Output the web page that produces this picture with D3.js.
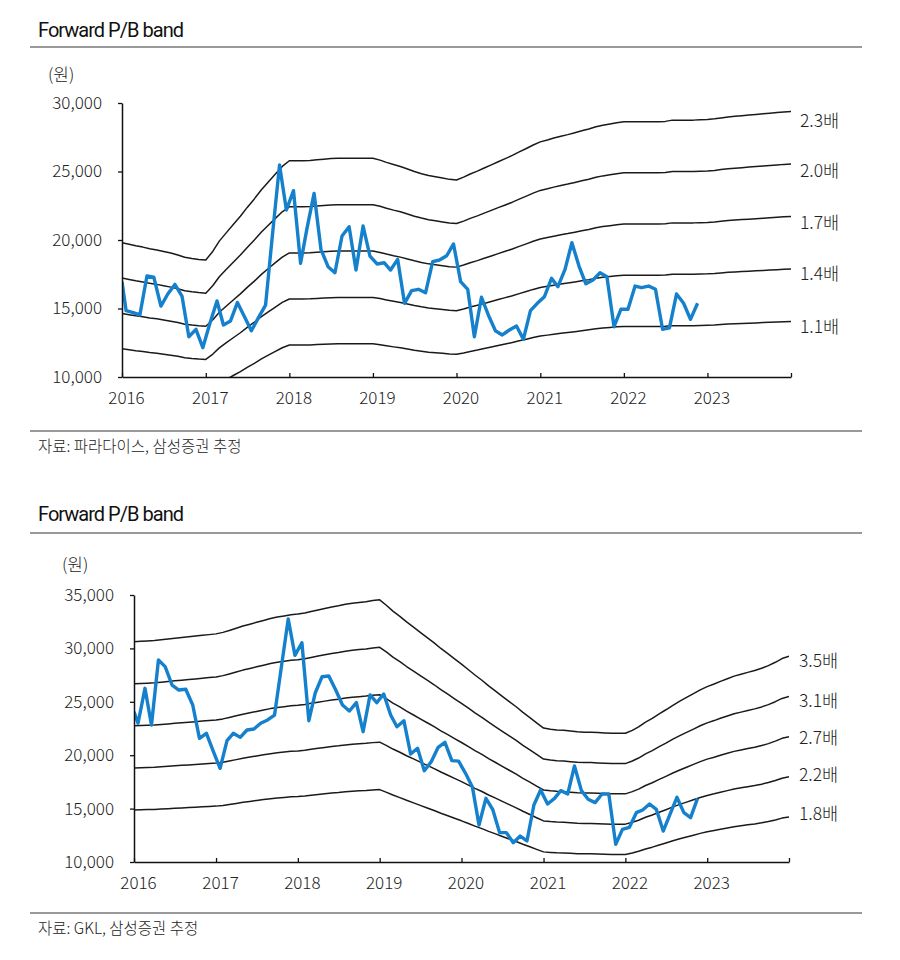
<!DOCTYPE html>
<html><head><meta charset="utf-8">
<script src="https://cdn.jsdelivr.net/npm/d3@7"></script>
<style>
body{margin:0;background:#fff}
svg{display:block}
.num{font-family:"Noto Sans CJK KR","Noto Sans",sans-serif;font-weight:300;fill:#222}
.ttl{font-family:"Liberation Sans Narrow","Roboto",sans-serif;fill:#111}
</style>
</head><body>
<svg id="chart" width="900" height="960"></svg>
<script>
// ---------------- data ----------------
const years = ["2016","2017","2018","2019","2020","2021","2022","2023"];
const axisStart = "2016-01-01", axisEnd = "2024-01-01";

// Panel 1 (파라다이스)
const topTitle = "Forward P/B band";
const topSource = "자료: 파라다이스, 삼성증권 추정";
const topTicks = [10000, 15000, 20000, 25000, 30000];
const topMultiples = [2.3, 2.0, 1.7, 1.4, 1.1];
const topBandLabels = ["2.3배", "2.0배", "1.7배", "1.4배", "1.1배"];
// forward BPS, monthly from 2016-01 to 2024-01
const topBps = [8610,8560,8510,8470,8420,8380,8330,8280,8220,8150,8110,8080,8060,
  8340,8660,8930,9190,9450,9730,10000,10290,10540,10790,11030,11210,
  11210,11210,11220,11240,11260,11280,11290,11290,11290,11290,11290,11290,
  11230,11160,11090,11030,10950,10870,10800,10740,10700,10660,10620,10600,
  10690,10790,10880,10980,11080,11180,11280,11380,11490,11600,11710,11810,
  11870,11930,11990,12040,12100,12160,12220,12290,12340,12380,12420,12450,
  12450,12450,12450,12450,12450,12460,12500,12500,12500,12500,12510,12520,
  12540,12570,12600,12620,12640,12660,12680,12700,12720,12740,12760,12770];
const topPriceStart = 16950;
// share price, monthly from 2016-01 to 2022-11
const topPrice = [14840,14700,14530,17370,17280,15180,16060,16760,15910,12940,
  13480,12140,13920,15550,13800,14090,15430,14400,13380,14330,
  15250,20360,25470,22190,23600,18300,20850,23400,19320,18050,
  17610,20290,20970,17810,21020,18830,18250,18340,17810,18590,
  15380,16300,16400,16150,18420,18540,18850,19710,16960,16400,
  12940,15820,14530,13380,13070,13430,13720,12750,14840,15380,
  15860,17200,16590,17860,19800,18100,16800,17080,17610,17320,
  13670,14940,14940,16640,16520,16640,16400,13480,13580,16060,
  15380,14210,15380];

// Panel 2 (GKL)
const botTitle = "Forward P/B band";
const botSource = "자료: GKL, 삼성증권 추정";
const botTicks = [10000, 15000, 20000, 25000, 30000, 35000];
const botMultiples = [3.5, 3.05, 2.6, 2.15, 1.7];
const botBandLabels = ["3.5배", "3.1배", "2.7배", "2.2배", "1.8배"];
const botBps = [8750,8760,8770,8780,8800,8820,8840,8860,8880,8900,8920,8940,8960,
  9000,9050,9110,9170,9220,9270,9320,9370,9410,9440,9470,9490,
  9520,9560,9600,9640,9680,9710,9750,9780,9800,9820,9850,9870,
  9720,9570,9430,9280,9140,9000,8860,8720,8570,8430,8290,8150,
  8000,7860,7720,7570,7430,7290,7150,7010,6860,6720,6580,6440,
  6410,6390,6380,6360,6340,6330,6330,6320,6310,6300,6300,6300,
  6380,6470,6600,6700,6820,6930,7050,7160,7260,7360,7460,7550,
  7620,7690,7760,7830,7880,7930,7980,8040,8110,8200,8300,8360];
const botPriceStart = 24070;
const botPrice = [22990,26260,22830,28910,28290,26570,26100,26170,24700,21580,
  22050,20400,18770,21360,22050,21670,22360,22450,22990,23300,
  23760,28200,32750,29350,30530,23230,25800,27350,27420,26100,
  24700,24140,24920,22200,25640,24920,25730,23760,22670,23230,
  20110,20650,18550,19390,20740,21210,19490,19450,18300,16990,
  13460,15960,14930,12750,12750,11810,12430,11970,15340,16740,
  15430,15960,16680,16370,18990,16680,15870,15560,16370,16370,
  11650,13060,13250,14620,14870,15430,14930,12900,14470,16060,
  14620,14150,15960];

// ---------------- drawing ----------------
const svg = d3.select("#chart");
const parse = d3.timeParse("%Y-%m-%d");
const d0 = parse(axisStart), d1 = parse(axisEnd);
const bandDates = d3.timeMonth.range(d0, d3.timeDay.offset(d1, 1));
const yearDates = years.map(y => parse(y + "-01-01")).concat([d1]);

function panel(o) {
  const g = svg.append("g");
  // title & rules
  g.append("text").attr("class", "ttl").attr("x", 38).attr("y", o.titleY)
    .attr("font-size", 20).attr("textLength", 146).text(o.title);
  g.append("line").attr("x1", 30).attr("x2", 862).attr("y1", o.ruleY).attr("y2", o.ruleY)
    .attr("stroke", "#777").attr("stroke-width", 1.3);
  g.append("line").attr("x1", 30).attr("x2", 862).attr("y1", o.srcRuleY).attr("y2", o.srcRuleY)
    .attr("stroke", "#777").attr("stroke-width", 1.3);
  g.append("text").attr("class", "num").attr("x", 38).attr("y", o.srcRuleY + 21)
    .attr("font-size", 15.5).text(o.source);
  g.append("text").attr("class", "num").attr("x", o.unitX).attr("y", o.unitY)
    .attr("font-size", 17).text("(원)");

  const x = d3.scaleTime().domain([d0, d1]).range([o.x0, o.x1]);
  const y = d3.scaleLinear().domain([o.ticks[0], o.ticks[o.ticks.length - 1]]).range([o.y0, o.y1]);

  const clipId = "clip" + o.id;
  g.append("clipPath").attr("id", clipId).append("rect")
    .attr("x", o.x0).attr("y", o.y1).attr("width", o.x1 - o.x0).attr("height", o.y0 - o.y1);

  const line = d3.line().x(d => x(d.date)).y(d => y(d.v));
  const plot = g.append("g").attr("clip-path", `url(#${clipId})`);

  o.multiples.forEach((m, k) => {
    const pts = o.bps.map((b, i) => ({date: bandDates[i], v: b * m}));
    plot.append("path").datum(pts).attr("d", line)
      .attr("fill", "none").attr("stroke", "#1a1a1a").attr("stroke-width", 1.5)
      .attr("stroke-linejoin", "round");
    const last = pts[pts.length - 1];
    g.append("text").attr("class", "num").attr("x", o.labelX)
      .attr("y", y(last.v) + o.labelDy[k]).attr("dy", "0.35em")
      .attr("font-size", 17.5).text(o.labels[k]);
  });

  const pricePts = [{date: d0, v: o.priceStart}].concat(
    o.price.map((v, i) => ({date: new Date(2016, i, 19), v})));
  plot.append("path").datum(pricePts).attr("d", line)
    .attr("fill", "none").attr("stroke", "#1580cc").attr("stroke-width", 3.4)
    .attr("stroke-linejoin", "round");

  // axes
  const ya = g.append("g").attr("transform", `translate(${o.x0},0)`)
    .call(d3.axisLeft(y).tickValues(o.ticks).tickSize(4).tickSizeOuter(0)
      .tickPadding(16).tickFormat(d3.format(",")));
  const xa = g.append("g").attr("transform", `translate(0,${o.y0})`)
    .call(d3.axisBottom(x).tickValues(yearDates).tickSize(-4).tickSizeOuter(0)
      .tickPadding(15).tickFormat(d => d.getFullYear() < 2024 ? d3.timeFormat("%Y")(d) : ""));
  [ya, xa].forEach(a => {
    a.selectAll("path.domain").attr("stroke", "#111").attr("stroke-width", 1.5);
    a.selectAll(".tick line").attr("stroke", "#111").attr("stroke-width", 1.3);
    a.selectAll("text").attr("class", "num").attr("font-size", 17)
      .attr("font-family", null).attr("fill", "#222");
  });
  xa.selectAll("text").attr("dx", 4);
}

panel({id: 1, title: topTitle, source: topSource, titleY: 37, ruleY: 47, srcRuleY: 431,
  unitX: 48, unitY: 81,
  x0: 122, x1: 791, y0: 377, y1: 103, ticks: topTicks,
  multiples: topMultiples, labels: topBandLabels, bps: topBps,
  priceStart: topPriceStart, price: topPrice,
  labelX: 800, labelDy: [9, 7, 6, 5, 5]});

panel({id: 2, title: botTitle, source: botSource, titleY: 521, ruleY: 533, srcRuleY: 913,
  unitX: 62, unitY: 571,
  x0: 134, x1: 789, y0: 862, y1: 595, ticks: botTicks,
  multiples: botMultiples, labels: botBandLabels, bps: botBps,
  priceStart: botPriceStart, price: botPrice,
  labelX: 799, labelDy: [5, 4, 1, -2, -3]});
</script>
</body></html>
